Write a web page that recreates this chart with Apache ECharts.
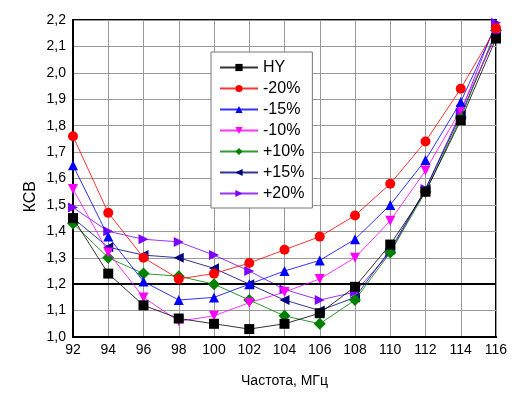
<!DOCTYPE html>
<html>
<head>
<meta charset="utf-8">
<script src="https://cdn.jsdelivr.net/npm/echarts@6/dist/echarts.min.js"></script>
<style>
  html, body { margin: 0; padding: 0; background: #fff; }
  #chart { width: 528px; height: 393px; }
</style>
</head>
<body>
<div id="chart"></div>
<script>
  // частоты, МГц
  var freq = [92, 94, 96, 98, 100, 102, 104, 106, 108, 110, 112, 114, 116]
  var hy     = [1.45, 1.24, 1.12, 1.07, 1.05, 1.03, 1.05, 1.09, 1.19, 1.35, 1.55, 1.82, 2.13]
  var m20    = [1.76, 1.47, 1.30, 1.22, 1.24, 1.28, 1.33, 1.38, 1.46, 1.58, 1.74, 1.94, 2.17]
  var m15    = [1.65, 1.38, 1.21, 1.14, 1.15, 1.20, 1.25, 1.29, 1.37, 1.50, 1.67, 1.89, 2.18]
  var m10    = [1.56, 1.32, 1.15, 1.06, 1.08, 1.13, 1.17, 1.22, 1.30, 1.44, 1.63, 1.86, 2.14]
  var p10    = [1.43, 1.30, 1.24, 1.23, 1.20, 1.14, 1.08, 1.05, 1.14, 1.32, 1.55, 1.83, 2.16]
  var p15    = [1.45, 1.34, 1.31, 1.30, 1.26, 1.20, 1.14, 1.10, 1.15, 1.33, 1.56, 1.84, 2.15]
  var p20    = [1.49, 1.40, 1.37, 1.36, 1.31, 1.25, 1.18, 1.14, 1.17, 1.32, 1.56, 1.85, 2.19]
  var names  = ['HY', '-20%', '-15%', '-10%', '+10%', '+15%', '+20%']
  var level = 1.2

  var defs = [
    { data: hy,  color: '#000000', symbol: 'rect',     rotate: 0 },
    { data: m20, color: '#ff0000', symbol: 'circle',   rotate: 0 },
    { data: m15, color: '#0000ff', symbol: 'triangle', rotate: 0 },
    { data: m10, color: '#ff00ff', symbol: 'triangle', rotate: 180 },
    { data: p10, color: '#008000', symbol: 'diamond',  rotate: 0 },
    { data: p15, color: '#000080', symbol: 'triangle', rotate: 90 },
    { data: p20, color: '#8000ff', symbol: 'triangle', rotate: -90 }
  ]

  var font = 'Liberation Sans, Arial, sans-serif'

  var series = defs.map(function (d, i) {
    return {
      name: names[i],
      type: 'line',
      data: freq.map(function (f, j) { return [f, d.data[j]] }),
      symbol: d.symbol,
      symbolRotate: d.rotate,
      symbolSize: d.symbol === 'diamond' ? 12 : 10,
      itemStyle: { color: d.color },
      lineStyle: { color: d.color, width: 1, opacity: 0.8 },
      z: 10 - i,
      animation: false
    }
  })

  // линия КСВ = 1,2
  series.push({
    type: 'line',
    data: [],
    silent: true,
    markLine: {
      symbol: 'none',
      silent: true,
      animation: false,
      label: { show: false },
      lineStyle: { color: '#000', width: 2, type: 'solid' },
      data: [{ yAxis: level }]
    }
  })

  var chart = echarts.init(document.getElementById('chart'))
  chart.setOption({
    animation: false,
    textStyle: { fontFamily: font },
    grid: {
      left: 73, top: 20, right: 32, bottom: 51,
      show: true, borderColor: '#000', borderWidth: 2
    },
    legend: {
      data: names,
      orient: 'vertical',
      left: 211, top: 52,
      backgroundColor: '#fff',
      borderColor: '#777',
      borderWidth: 1,
      padding: [7, 8, 6, 8],
      itemWidth: 38,
      itemHeight: 9,
      itemGap: 4,
      textStyle: { fontSize: 16, color: '#000', fontFamily: font, lineHeight: 17 }
    },
    xAxis: {
      type: 'value',
      min: 92, max: 116, interval: 2,
      name: 'Частота, МГц',
      nameLocation: 'middle',
      nameGap: 37,
      nameTextStyle: { fontSize: 14, color: '#000' },
      axisLine: { show: true, lineStyle: { color: '#000', width: 2 } },
      axisTick: { show: false },
      axisLabel: { fontSize: 14, color: '#000', margin: 6 },
      splitLine: { show: true, lineStyle: { color: '#9a9a9a', width: 1 } }
    },
    yAxis: {
      type: 'value',
      min: 1.0, max: 2.2, interval: 0.1,
      axisLine: { show: true, lineStyle: { color: '#000', width: 2 } },
      axisTick: { show: false },
      axisLabel: {
        fontSize: 14, color: '#000', margin: 7,
        formatter: function (v) { return v.toFixed(1).replace('.', ',') }
      },
      splitLine: { show: true, lineStyle: { color: '#9a9a9a', width: 1 } }
    },
    graphic: [{
      type: 'text',
      left: 23, top: 181,
      rotation: Math.PI / 2,
      style: { text: 'КСВ', fontSize: 16, fill: '#000', fontFamily: font }
    }],
    series: series
  })
</script>
</body>
</html>
